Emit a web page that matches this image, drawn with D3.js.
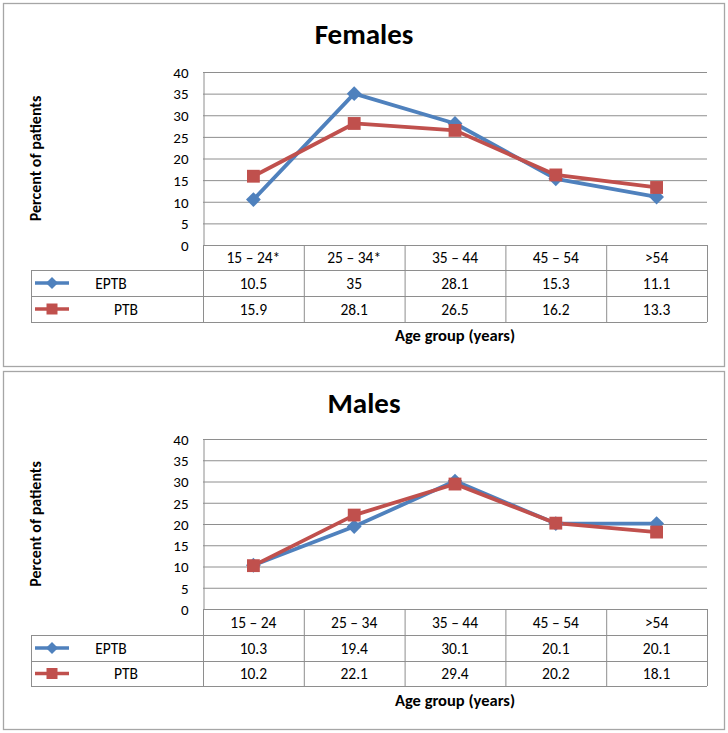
<!DOCTYPE html>
<html><head><meta charset="utf-8">
<script src="https://cdn.jsdelivr.net/npm/d3@7"></script>
<style>
body{margin:0;background:#fff;}
svg{display:block;font-family:Carlito,Calibri,Lato,sans-serif;}
</style></head>
<body><svg id="c" width="728" height="733"></svg>
<script>
const categoriesFemale = ["15 – 24*", "25 – 34*", "35 – 44", "45 – 54", ">54"];
const categoriesMale = ["15 – 24", "25 – 34", "35 – 44", "45 – 54", ">54"];
const femaleEPTB = [10.5, 35, 28.1, 15.3, 11.1];
const femalePTB = [15.9, 28.1, 26.5, 16.2, 13.3];
const maleEPTB = [10.3, 19.4, 30.1, 20.1, 20.1];
const malePTB = [10.2, 22.1, 29.4, 20.2, 18.1];
const yTicks = [0, 5, 10, 15, 20, 25, 30, 35, 40];
const seriesNames = ["EPTB", "PTB"];

const svg = d3.select("#c");
const BLUE = "#4F81BD", RED = "#C0504D", GRID = "#8E8E8E", BORDER = "#A6A6A6";
const diamond = {draw(ctx, size) { const r = Math.sqrt(size / 2);
  ctx.moveTo(0, -r); ctx.lineTo(r, 0); ctx.lineTo(0, r); ctx.lineTo(-r, 0); ctx.closePath(); }};

function panel(cfg) {
  const g = svg.append("g");
  g.append("rect").attr("x", 3.5).attr("y", cfg.boxTop + 0.5).attr("width", 721)
    .attr("height", cfg.boxBottom - cfg.boxTop).attr("fill", "#fff").attr("stroke", BORDER).attr("stroke-width", 1.3);
  g.append("text").attr("x", 364).attr("y", cfg.titleY).attr("text-anchor", "middle")
    .attr("font-size", 29).attr("font-weight", "bold").text(cfg.title);

  const left = 203, right = 707;
  const x = d3.scaleBand().domain(cfg.cats).range([left, right]);
  const y = d3.scaleLinear().domain([0, 40]).range([cfg.plotBottom, cfg.plotTop]);

  g.append("g").selectAll("line").data(yTicks).join("line")
    .attr("x1", left).attr("x2", right).attr("y1", d => y(d) + 0.5).attr("y2", d => y(d) + 0.5)
    .attr("stroke", GRID).attr("stroke-width", 1);
  const ya = g.append("g").attr("transform", `translate(${left + 0.5},0.5)`)
    .call(d3.axisLeft(y).tickValues(yTicks).tickSize(0).tickPadding(15));
  ya.select(".domain").attr("stroke", GRID);
  ya.selectAll("text").attr("font-size", 15).attr("font-family", "Carlito,Calibri,Lato,sans-serif").attr("fill", "#000");

  g.append("text").attr("transform", `translate(41,${(cfg.plotTop + cfg.plotBottom) / 2}) rotate(-90)`)
    .attr("text-anchor", "middle").attr("font-size", 16).attr("font-weight", "bold").text("Percent of patients");

  const r0 = cfg.plotBottom, r1 = cfg.rows[0], r2 = cfg.rows[1], r3 = cfg.rows[2];
  const tl = g.append("g").attr("stroke", GRID).attr("stroke-width", 1);
  [r1, r2, r3].forEach(r => tl.append("line").attr("x1", 31).attr("x2", right).attr("y1", r + 0.5).attr("y2", r + 0.5));
  tl.append("line").attr("x1", 31.5).attr("x2", 31.5).attr("y1", r1).attr("y2", r3);
  const edges = cfg.cats.map(c => x(c)).concat([right]);
  tl.selectAll(".v").data(edges).join("line").attr("x1", d => d + 0.5).attr("x2", d => d + 0.5).attr("y1", r0).attr("y2", r3);

  g.append("g").selectAll("text").data(cfg.cats).join("text")
    .attr("x", d => x(d) + x.bandwidth() / 2).attr("y", (r0 + r1) / 2 + 5.5).attr("text-anchor", "middle")
    .attr("font-size", 15.5).text(d => d);
  const series = [{name: seriesNames[0], vals: cfg.eptb, color: BLUE, shape: diamond, ls: 72, ps: 110},
                  {name: seriesNames[1], vals: cfg.ptb, color: RED, shape: d3.symbolSquare, ls: 121, ps: 165}];
  series.forEach((s, i) => {
    const ra = i === 0 ? r1 : r2, rb = i === 0 ? r2 : r3, cy = (ra + rb) / 2;
    g.append("g").selectAll("text").data(s.vals).join("text")
      .attr("x", (d, j) => x(cfg.cats[j]) + x.bandwidth() / 2).attr("y", cy + 5.5).attr("text-anchor", "middle")
      .attr("font-size", 15.5).text(d => d);
    g.append("line").attr("x1", 35).attr("x2", 69).attr("y1", cy).attr("y2", cy)
      .attr("stroke", s.color).attr("stroke-width", 3.5);
    g.append("path").attr("d", d3.symbol().type(s.shape).size(s.ls)())
      .attr("transform", `translate(52,${cy})`).attr("fill", s.color);
    g.append("text").attr("x", i === 0 ? 111 : 126).attr("y", cy + 5.5).attr("text-anchor", "middle")
      .attr("font-size", 15.5).text(s.name);
  });

  series.forEach(s => {
    const line = d3.line().x((d, j) => x(cfg.cats[j]) + x.bandwidth() / 2).y(d => y(d));
    g.append("path").datum(s.vals).attr("d", line).attr("fill", "none")
      .attr("stroke", s.color).attr("stroke-width", 3.8).attr("stroke-linejoin", "round");
  });
  series.forEach(s => {
    g.append("g").selectAll("path").data(s.vals).join("path")
      .attr("d", d3.symbol().type(s.shape).size(s.ps)())
      .attr("transform", (d, j) => `translate(${x(cfg.cats[j]) + x.bandwidth() / 2},${y(d)})`)
      .attr("fill", s.color);
  });

  g.append("text").attr("x", (left + right) / 2).attr("y", cfg.axisTitleY).attr("text-anchor", "middle")
    .attr("font-size", 16.5).attr("font-weight", "bold").text("Age group (years)");
}

panel({title: "Females", cats: categoriesFemale, eptb: femaleEPTB, ptb: femalePTB,
  boxTop: 3, boxBottom: 366, titleY: 44, plotTop: 72, plotBottom: 245, rows: [270, 296, 322], axisTitleY: 341});
panel({title: "Males", cats: categoriesMale, eptb: maleEPTB, ptb: malePTB,
  boxTop: 371, boxBottom: 729, titleY: 413, plotTop: 439, plotBottom: 609, rows: [635, 661, 686], axisTitleY: 706});
</script></body></html>
